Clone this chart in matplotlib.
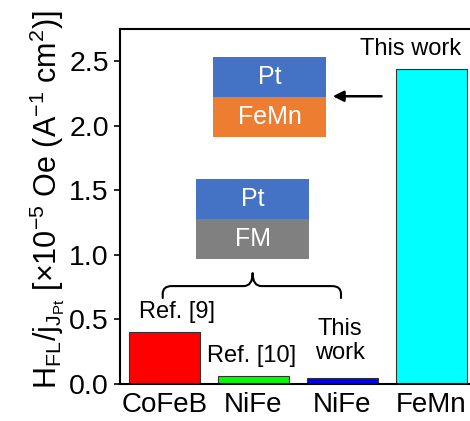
import matplotlib
matplotlib.use("Agg")
import matplotlib.pyplot as plt
from matplotlib.patches import Rectangle, PathPatch
from matplotlib.path import Path

# data
samples = ["CoFeB", "NiFe", "NiFe", "FeMn"]
h_fl    = [0.40, 0.062, 0.044, 2.44]
colors  = ["#FF0000", "#00FF00", "#0000FF", "#00FFFF"]
y_ticks = [0.0, 0.5, 1.0, 1.5, 2.0, 2.5]

plt.rcParams.update({
    "font.family": ["Liberation Sans", "DejaVu Sans"],
    "mathtext.fontset": "custom",
    "mathtext.rm": "Liberation Sans",
    "mathtext.it": "Liberation Sans:italic",
    "axes.linewidth": 1.5,
})

fig = plt.figure(figsize=(4.7, 4.21), dpi=100)
ax = fig.add_axes([120 / 470, 37 / 421, 356 / 470, 355 / 421])

pos = range(1, len(samples) + 1)
ax.bar(pos, h_fl, width=0.8, color=colors, edgecolor="#333333", linewidth=0.8)

ax.set_xlim(0.5, 4.5)
ax.set_ylim(0, 2.75)
ax.set_xticks(list(pos))
ax.set_xticklabels(samples, fontsize=20)
ax.tick_params(axis="x", length=0, pad=6)
ax.set_yticks(y_ticks)
ax.set_yticklabels([f"{v:.1f}" for v in y_ticks], fontsize=20.5)
ax.tick_params(axis="y", direction="out", length=4, width=1.2, pad=4)

ax.set_ylabel(r"H$_\mathrm{FL}$/j$_{\mathrm{J}_\mathrm{Pt}}$ [×10$^{-5}$ Oe (A$^{-1}$ cm$^{2}$)]",
              fontsize=22)
ax.yaxis.set_label_coords(-0.148, 0.52)

# stack sketches
def stack(x0, x1, ytop, ymid, ybot, top_lbl, bot_lbl, bot_col):
    ax.add_patch(Rectangle((x0, ymid), x1 - x0, ytop - ymid, color="#4472C4", lw=0))
    ax.add_patch(Rectangle((x0, ybot), x1 - x0, ymid - ybot, color=bot_col, lw=0))
    ax.text((x0 + x1) / 2, (ytop + ymid) / 2, top_lbl, color="white", fontsize=18,
            ha="center", va="center")
    ax.text((x0 + x1) / 2, (ymid + ybot) / 2, bot_lbl, color="white", fontsize=18,
            ha="center", va="center")

stack(1.545, 2.815, 2.531, 2.221, 1.912, "Pt", "FeMn", "#ED7D31")
stack(1.354, 2.624, 1.587, 1.277, 0.967, "Pt", "FM", "#808080")

ax.annotate("", xy=(2.86, 2.229), xytext=(3.47, 2.229),
            arrowprops=dict(arrowstyle="-|>", color="black", lw=1.8,
                            mutation_scale=16))

# curly brace over the three reference bars
yb, ye, yt = 0.7585, 0.666, 0.859
xl, xr, xc = 0.98, 2.983, 1.99
verts = [(xl, ye), (xl, yb - 0.06), (xl, yb), (xl + 0.1, yb),
         (xc - 0.1, yb), (xc, yb), (xc, yt),
         (xc, yb), (xc + 0.1, yb),
         (xr - 0.1, yb), (xr, yb), (xr, yb - 0.06), (xr, ye)]
codes = [Path.MOVETO, Path.LINETO, Path.CURVE3, Path.CURVE3,
         Path.LINETO, Path.CURVE3, Path.CURVE3,
         Path.CURVE3, Path.CURVE3,
         Path.LINETO, Path.CURVE3, Path.CURVE3, Path.LINETO]
ax.add_patch(PathPatch(Path(verts, codes), fill=False, lw=1.5, color="black",
                       capstyle="round", joinstyle="round"))

ax.text(1.14, 0.557, "Ref. [9]", fontsize=17, ha="center", va="center")
ax.text(1.98, 0.22, "Ref. [10]", fontsize=17, ha="center", va="center")
ax.text(2.97, 0.335, "This\nwork", fontsize=17, ha="center", va="center",
        linespacing=1.1)
ax.text(3.76, 2.593, "This work", fontsize=17, ha="center", va="center")

fig.savefig("out.png", dpi=100)
